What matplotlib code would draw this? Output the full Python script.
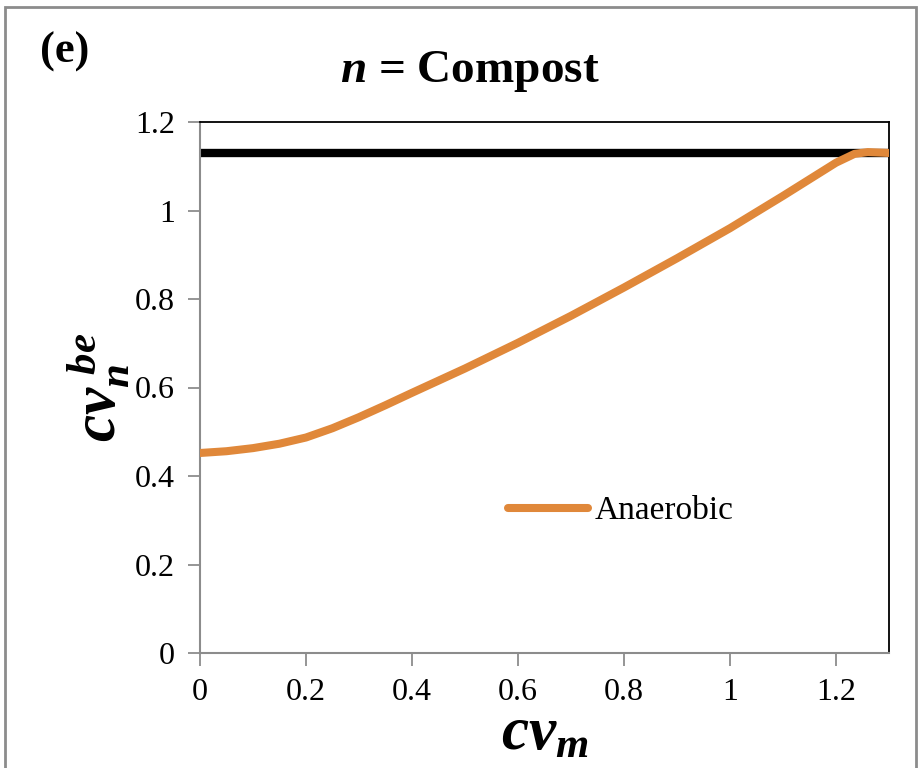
import matplotlib
matplotlib.use("Agg")
import matplotlib.pyplot as plt
from matplotlib.patches import Rectangle

plt.rcParams['font.family'] = ['Liberation Serif', 'DejaVu Serif']
plt.rcParams['mathtext.fontset'] = 'custom'
plt.rcParams['mathtext.it'] = 'Liberation Serif:italic:bold'
plt.rcParams['mathtext.rm'] = 'Liberation Serif:bold'
plt.rcParams['mathtext.bf'] = 'Liberation Serif:bold'

# Data
cv_m = [0.0, 0.05, 0.1, 0.15, 0.2, 0.25, 0.3, 0.35, 0.4, 0.5, 0.6, 0.7, 0.8, 0.9, 1.0, 1.1, 1.2, 1.235, 1.26, 1.3]
anaerobic = [0.452, 0.456, 0.463, 0.473, 0.487, 0.508, 0.533, 0.56, 0.588, 0.643, 0.701, 0.762, 0.826, 0.892,
             0.96, 1.033, 1.108, 1.128, 1.132, 1.13]
ref_level = 1.13
x_ticks = [0, 0.2, 0.4, 0.6, 0.8, 1.0, 1.2]
x_tick_labels = ['0', '0.2', '0.4', '0.6', '0.8', '1', '1.2']
y_ticks = [0, 0.2, 0.4, 0.6, 0.8, 1.0, 1.2]
y_tick_labels = ['0', '0.2', '0.4', '0.6', '0.8', '1', '1.2']

fig = plt.figure(figsize=(9.2, 7.68), dpi=100)
ax = fig.add_axes([200/920, 1-653/768, 689/920, 531/768])

ax.axhline(ref_level, color='black', lw=6, solid_capstyle='butt', zorder=2)
ax.plot(cv_m, anaerobic, color='#E0883A', lw=5.8, solid_capstyle='round', solid_joinstyle='round',
        label='Anaerobic', zorder=3)

ax.set_xlim(0, 1.3)
ax.set_ylim(0, 1.2)
ax.set_xticks(x_ticks)
ax.set_xticklabels(x_tick_labels)
ax.set_yticks(y_ticks)
ax.set_yticklabels(y_tick_labels)
ax.tick_params(axis='both', direction='out', length=9, width=1.3, color='#8C8C8C', labelsize=23, pad=9)

for s in ['left', 'bottom']:
    ax.spines[s].set_color('#8C8C8C')
    ax.spines[s].set_linewidth(1.5)
for s in ['top', 'right']:
    ax.spines[s].set_color('black')
    ax.spines[s].set_linewidth(1.3)

ax.set_xlabel(r'$cv_{m}$', fontsize=44, labelpad=0)
ax.set_ylabel(r'$cv_{n}^{\ be}$', fontsize=44, labelpad=2)

fig.text(470/920, 1-72/768, r'$n$ = Compost', fontsize=34, fontweight='bold', ha='center', va='center')
fig.text(40/920, 1-52/768, '(e)', fontsize=32, fontweight='bold', ha='left', va='center')

leg = ax.legend(loc='center', bbox_to_anchor=((621-200)/689, (653-511)/531), frameon=False,
                fontsize=24, handlelength=2.4, handletextpad=0.2)

fig.patches.append(Rectangle((5/920, -0.1), 911/920, 1.1 - 7/768, transform=fig.transFigure,
                             fill=False, edgecolor='#8C8C8C', lw=2))

fig.savefig('out.png', dpi=100)
